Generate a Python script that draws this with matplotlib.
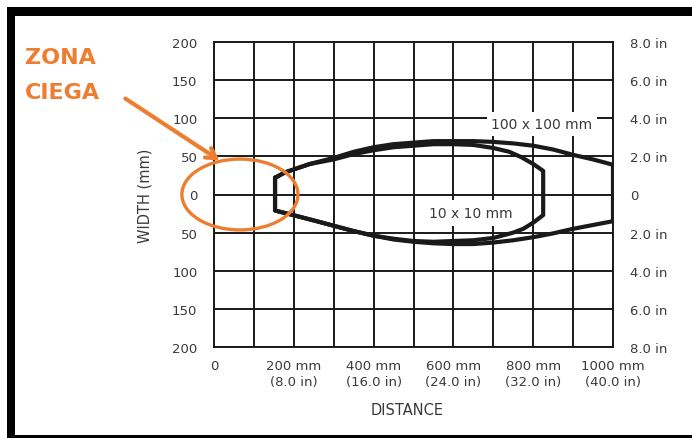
import matplotlib
matplotlib.use("Agg")
import matplotlib.pyplot as plt
from matplotlib.patches import Ellipse, Rectangle

# Axis ticks and labels
distance_ticks = [0, 100, 200, 300, 400, 500, 600, 700, 800, 900, 1000]
distance_labels = ["0", "", "200 mm\n(8.0 in)", "", "400 mm\n(16.0 in)", "",
                   "600 mm\n(24.0 in)", "", "800 mm\n(32.0 in)", "",
                   "1000 mm\n(40.0 in)"]
width_ticks = [200, 150, 100, 50, 0, -50, -100, -150, -200]
width_labels_mm = ["200", "150", "100", "50", "0", "50", "100", "150", "200"]
width_labels_in = ["8.0 in", "6.0 in", "4.0 in", "2.0 in", "0",
                   "2.0 in", "4.0 in", "6.0 in", "8.0 in"]

# Read field for a 100 x 100 mm target (distance mm, width mm), closed contour
field_100_x = [153, 178, 240, 300, 350, 400, 450, 500, 550, 600, 650, 700,
               750, 800, 850, 900, 950, 1000,
               1000, 950, 900, 850, 800, 750, 700, 650, 600, 550, 500, 450,
               400, 350, 300, 250, 198, 153, 153]
field_100_y = [22, 29, 40, 48, 56, 62, 66, 68, 70, 70, 70, 69,
               67, 64, 59, 52, 46, 39,
               -35, -40, -45, -51, -56, -60, -63, -65, -65, -64, -62, -59,
               -54, -48, -41, -34, -27, -21, 22]

# Read field for a 10 x 10 mm target
field_10_x = [153, 178, 240, 300, 350, 400, 450, 500, 550, 600, 650, 700,
              740, 770, 800, 825,
              825, 800, 775, 750, 700, 650, 600, 550, 500, 450, 400, 350,
              300, 250, 198, 153, 153]
field_10_y = [22, 29, 40, 46, 53, 58, 62, 64, 66, 66, 65, 61,
              56, 49, 40, 31,
              -27, -37, -45, -50, -57, -60, -61, -62, -61, -58, -54, -48,
              -41, -34, -27, -21, 22]

# Blind zone marker (centre and size in data units)
blind_center = (65, 0)
blind_size = (291, 93)

W, H = 692, 439
ORANGE = "#ED7D31"
INK = "#1a1a1a"
TXT = "#3a3a3a"

plt.rcParams["font.family"] = ["DejaVu Sans"]

fig = plt.figure(figsize=(W / 100, H / 100), dpi=100)
fig.patch.set_facecolor("white")

ax = fig.add_axes([214 / W, (H - 348) / H, 399 / W, 305 / H])
ax.set_xlim(0, 1000)
ax.set_ylim(-200, 200)
ax.set_axisbelow(True)

ax.set_xticks(distance_ticks, distance_labels, fontsize=9.5, color=TXT,
              linespacing=1.25)
ax.set_yticks(width_ticks, width_labels_mm, fontsize=9.5, color=TXT)
ax.tick_params(length=0)
ax.tick_params(axis="x", pad=9)
ax.tick_params(axis="y", pad=12)
ax.grid(True, color=INK, lw=1.4)
for s in ax.spines.values():
    s.set_color(INK)
    s.set_linewidth(1.4)

ax2 = ax.twinx()
ax2.set_ylim(ax.get_ylim())
ax2.set_yticks(width_ticks, width_labels_in, fontsize=9.5, color=TXT)
ax2.tick_params(length=0, pad=12)
for s in ax2.spines.values():
    s.set_visible(False)

ax.set_xlabel("DISTANCE", fontsize=10.5, color=TXT)
ax.xaxis.set_label_coords(0.484, -0.18)
ax.set_ylabel("WIDTH (mm)", fontsize=10.5, color=TXT)
ax.yaxis.set_label_coords(-0.155, 0.5)

# Field contours
ax.plot(field_100_x, field_100_y, color=INK, lw=3, solid_joinstyle="round",
        solid_capstyle="round", zorder=3)
ax.plot(field_10_x, field_10_y, color=INK, lw=3, solid_joinstyle="round",
        solid_capstyle="round", zorder=3)

ax.text(822, 92, "100 x 100 mm", fontsize=10, color=TXT, ha="center",
        va="center", zorder=4,
        bbox=dict(boxstyle="square,pad=0.35", fc="white", ec="none"))
ax.text(644, -24, "10 x 10 mm", fontsize=10, color=TXT, ha="center",
        va="center", zorder=4,
        bbox=dict(boxstyle="square,pad=0.45", fc="white", ec="none"))

# Blind zone
ax.add_patch(Ellipse(blind_center, blind_size[0], blind_size[1], fill=False,
                     ec=ORANGE, lw=2.4, clip_on=False, zorder=5))
fig.text(25 / W, 1 - 58 / H, "ZONA", fontsize=16, fontweight="bold",
         color=ORANGE, ha="left", va="center")
fig.text(25 / W, 1 - 93 / H, "CIEGA", fontsize=16, fontweight="bold",
         color=ORANGE, ha="left", va="center")
ax.annotate("", xy=(222, H - 163), xycoords="figure pixels",
            xytext=(123, H - 98), textcoords="figure pixels",
            arrowprops=dict(arrowstyle="->,head_length=0.7,head_width=0.4",
                            color=ORANGE, lw=3),
            annotation_clip=False, zorder=6)

# Frame around the figure
for x0, y0, w, h in [(7, H - 17, W - 7, 9), (7, 0, 8, H - 8), (7, 0, W - 7, 3)]:
    fig.patches.append(Rectangle((x0 / W, y0 / H), w / W, h / H,
                                 transform=fig.transFigure, fc="black",
                                 ec="none", zorder=10))

fig.savefig("out.png", dpi=100, facecolor="white")
